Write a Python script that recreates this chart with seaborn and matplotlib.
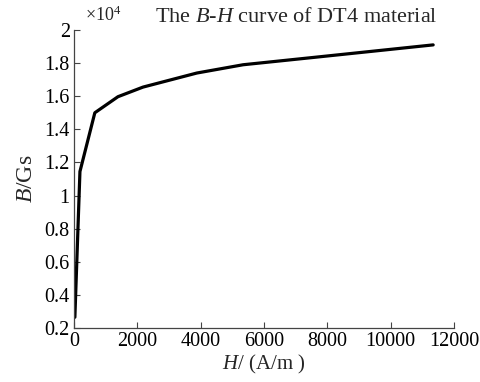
import matplotlib
matplotlib.use("Agg")
import matplotlib.pyplot as plt
import seaborn as sns
import pandas as pd
from matplotlib.ticker import FuncFormatter

H = [30, 190, 660, 1390, 2180, 3880, 5340, 7600, 11340]
B = [2650, 11450, 15000, 15970, 16550, 17400, 17900, 18350, 19100]
xticks = [0, 2000, 4000, 6000, 8000, 10000, 12000]
yticks = [2000, 4000, 6000, 8000, 10000, 12000, 14000, 16000, 18000, 20000]

sns.set_style("ticks")
plt.rcParams['font.family'] = ['Liberation Serif', 'DejaVu Serif']
plt.rcParams['mathtext.fontset'] = 'custom'
plt.rcParams['mathtext.rm'] = 'Liberation Serif'
plt.rcParams['mathtext.it'] = 'Liberation Serif:italic'

df = pd.DataFrame({"H": H, "B": B})
fig = plt.figure(figsize=(4.8, 3.82), dpi=100)
ax = fig.add_axes([0.154, 0.1414, 0.792, 0.7801])
sns.lineplot(data=df, x="H", y="B", sort=False, color="black", linewidth=2.3, ax=ax)
ax.set_xlim(0, 12000)
ax.set_ylim(2000, 20000)
ax.set_xticks(xticks)
ax.set_yticks(yticks)
ax.yaxis.set_major_formatter(FuncFormatter(lambda v, p: f"{v/1e4:g}"))
ax.tick_params(direction="in", length=4, labelsize=14.5, colors="#444444", labelcolor="black", width=0.8, pad=3)
for s in ["top", "right"]:
    ax.spines[s].set_visible(False)
for s in ["left", "bottom"]:
    ax.spines[s].set_color("#444444")
    ax.spines[s].set_linewidth(0.9)
ax.set_xlabel("$H$/ (A/m )", fontsize=15, labelpad=1)
ax.set_ylabel("$B$/Gs", fontsize=17, labelpad=5)
fig.text(0.177, 0.96, r"$\times$10$^{4}$", fontsize=13, ha="left", va="center")
fig.text(0.617, 0.955, "The $B$-$H$ curve of DT4 material", fontsize=16, ha="center", va="center")
fig.savefig("out.png", dpi=100)
